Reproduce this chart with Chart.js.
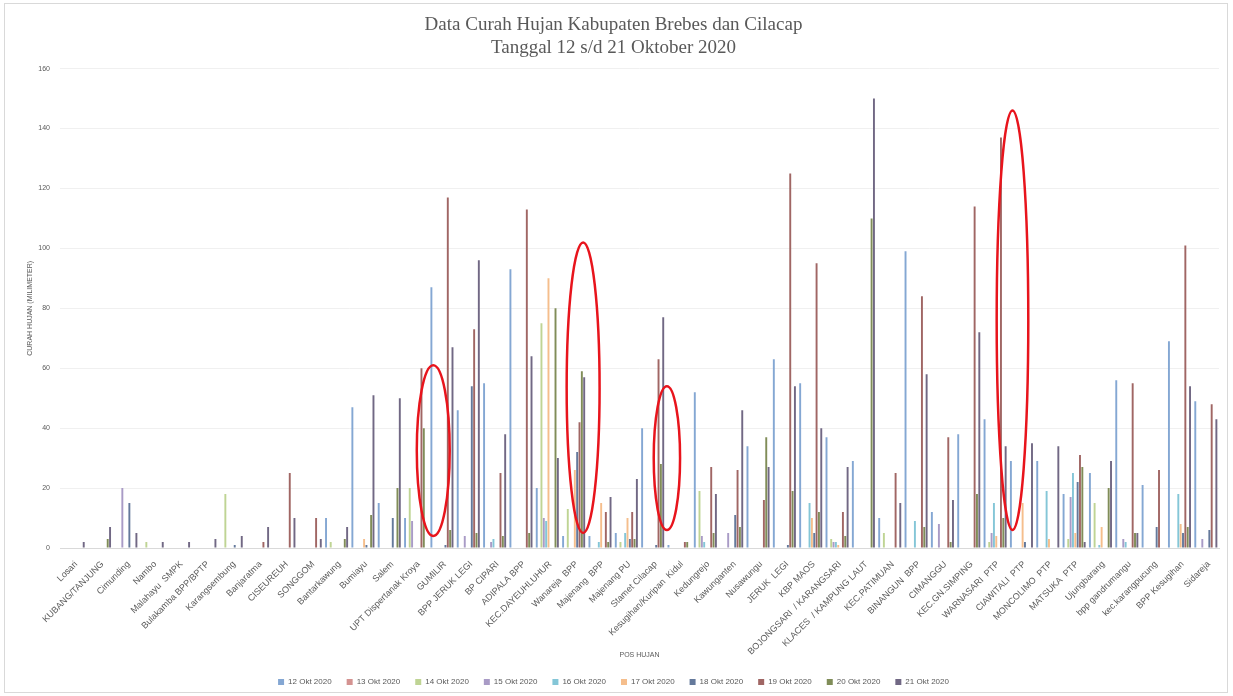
<!DOCTYPE html>
<html>
<head>
<meta charset="utf-8">
<script src="https://cdn.jsdelivr.net/npm/chart.js@4"></script>
<style>
  html, body { margin: 0; padding: 0; background: #ffffff; }
  #wrap { width: 1233px; height: 696px; position: relative; }
</style>
</head>
<body>
<div id="wrap"><canvas id="c" width="1233" height="696"></canvas></div>
<script>
// Rain gauge stations (x axis)
const categories = [
  'Losari', 'KUBANG/TANJUNG', 'Cimunding', 'Nambo', 'Malahayu  SMPK', 'Bulakamba BPP/BPTP',
  'Karangsembung', 'Banjaratma', 'CISEUREUH', 'SONGGOM', 'Bantarkawung', 'Bumiayu', 'Salem',
  'UPT Dispertanak Kroya', 'GUMILIR', 'BPP JERUK LEGI', 'BP CIPARI', 'ADIPALA BPP',
  'KEC.DAYEUHLUHUR', 'Wanareja  BPP', 'Majenang  BPP', 'Majenang PU', 'Stamet Cilacap',
  'Kesugihan/Kuripan  Kidul', 'Kedungrejo', 'Kawunganten', 'Nusawungu', 'JERUK  LEGI',
  'KBP MAOS', 'BOJONGSARI  / KARANGSARI', 'KLACES  / KAMPUNG LAUT', 'KEC.PATIMUAN',
  'BINANGUN  BPP', 'CIMANGGU', 'KEC.GN.SIMPING', 'WARNASARI  PTP', 'CIAWITALI  PTP',
  'MONCOLIMO  PTP', 'MATSUKA  PTP', 'Ujungbarang', 'bpp gandrumangu', 'kec.karangpucung',
  'BPP Kesugihan', 'Sidareja'
];

// Daily rainfall (mm), one value per station
const okt12 = [0,0,0,0,0,0,0,0,0,0,10,47,15,10,87,46,55,93,20,4,4,5,40,1,52,0,34,63,55,37,29,10,99,12,38,43,29,29,18,25,56,21,69,49];
const okt13 = [0,0,0,0,0,0,0,0,0,0,0,0,0,0,0,0,0,0,0,0,0,0,0,0,0,0,0,0,0,0,0,0,0,0,0,0,0,0,0,0,0,0,0,0];
const okt14 = [0,0,0,2,0,0,18,0,0,0,2,0,0,20,0,0,0,0,75,13,0,2,0,0,19,0,0,0,0,3,0,5,0,0,0,2,0,0,3,15,0,0,0,0];
const okt15 = [0,0,20,0,0,0,0,0,0,0,0,0,0,9,0,4,2,0,10,0,0,0,0,0,4,5,0,0,0,2,0,0,0,8,0,5,0,0,17,0,3,0,0,3];
const okt16 = [0,0,0,0,0,0,0,0,0,0,0,0,0,0,0,0,3,0,9,0,2,5,0,0,2,0,0,0,15,2,0,0,9,0,0,15,0,19,25,1,2,0,18,0];
const okt17 = [0,0,0,0,0,0,0,0,0,0,0,3,0,0,0,0,0,0,90,26,15,10,0,0,0,0,0,0,10,1,0,0,0,0,0,4,15,3,5,7,0,0,8,0];
const okt18 = [0,0,15,0,0,0,1,0,0,0,0,1,10,0,1,54,0,0,0,32,0,3,1,0,0,11,0,1,5,0,0,0,0,0,0,0,2,0,22,0,0,7,5,6];
const okt19 = [0,0,0,0,0,0,0,2,25,10,0,0,0,60,117,73,25,113,0,42,12,12,63,2,27,26,16,125,95,12,0,25,84,37,114,137,0,0,31,0,55,26,101,48];
const okt20 = [0,3,0,0,0,0,0,0,0,0,3,11,20,40,6,5,4,5,80,59,2,3,28,2,5,7,37,19,12,4,110,0,7,2,18,10,0,0,27,20,5,0,7,0];
const okt21 = [2,7,5,2,2,3,4,7,10,3,7,51,50,0,67,96,38,64,30,57,17,23,77,0,18,46,27,54,40,27,150,15,58,16,72,34,35,34,2,29,5,0,54,43];

// Y axis ticks
const yTicks = [0, 20, 40, 60, 80, 100, 120, 140, 160];

// Highlighted stations: station, offset (in categories), width (in categories), value range (mm)
const highlightStations = ['GUMILIR', 'Wanareja  BPP', 'Stamet Cilacap', 'CIAWITALI  PTP'];
const highlightShift = [-0.33, 0.36, 0.54, -0.34];
const highlightSpan = [1.25, 1.25, 1.0, 1.2];
const highlightLow = [4, 5, 6, 6];
const highlightHigh = [61, 102, 54, 146];

const seriesNames = ['12 Okt 2020','13 Okt 2020','14 Okt 2020','15 Okt 2020','16 Okt 2020',
                     '17 Okt 2020','18 Okt 2020','19 Okt 2020','20 Okt 2020','21 Okt 2020'];
const seriesValues = [okt12, okt13, okt14, okt15, okt16, okt17, okt18, okt19, okt20, okt21];
const seriesColors = ['#84a7d3','#d49391','#bfd494','#a99bc6','#84c6d7',
                      '#f5be8c','#64799b','#a06664','#808d58','#716884'];

const datasets = seriesNames.map((name, i) => ({
  label: name,
  data: seriesValues[i],
  backgroundColor: seriesColors[i],
  borderWidth: 0,
  categoryPercentage: 0.89,
  barPercentage: 0.82
}));

// Thin frame around the whole chart
const frame = {
  id: 'frame',
  beforeDraw(chart) {
    const ctx = chart.ctx;
    ctx.save();
    ctx.fillStyle = '#ffffff';
    ctx.fillRect(0, 0, chart.width, chart.height);
    ctx.strokeStyle = '#d9d9d9';
    ctx.lineWidth = 1;
    ctx.strokeRect(4.5, 3.5, 1223, 689);
    ctx.restore();
  }
};

// Red ovals around the highlighted stations
const highlights = {
  id: 'highlights',
  afterDatasetsDraw(chart) {
    const { ctx, scales: { x, y } } = chart;
    ctx.save();
    ctx.strokeStyle = '#e8141c';
    ctx.lineWidth = 2.5;
    highlightStations.forEach((st, i) => {
      const idx = categories.indexOf(st) + highlightShift[i];
      const cx = x.getPixelForValue(idx);
      const rx = (x.getPixelForValue(idx + highlightSpan[i] / 2) - cx);
      const yTop = y.getPixelForValue(highlightHigh[i]);
      const yBot = y.getPixelForValue(highlightLow[i]);
      ctx.beginPath();
      ctx.ellipse(cx, (yTop + yBot) / 2, rx, (yBot - yTop) / 2, 0, 0, Math.PI * 2);
      ctx.stroke();
    });
    ctx.restore();
  }
};

new Chart(document.getElementById('c'), {
  type: 'bar',
  data: { labels: categories, datasets },
  plugins: [frame, highlights],
  options: {
    responsive: false,
    animation: false,
    layout: { padding: { left: 8, right: 14, top: 8, bottom: 0 } },
    plugins: {
      title: {
        display: true,
        text: ['Data Curah Hujan Kabupaten Brebes dan Cilacap', 'Tanggal 12 s/d 21 Oktober 2020'],
        color: '#595959',
        font: { family: '"Liberation Serif", serif', size: 19, weight: 'normal', lineHeight: 1.2 },
        padding: { top: 6, bottom: 9 }
      },
      legend: {
        position: 'bottom',
        labels: {
          boxWidth: 6, boxHeight: 6,
          color: '#595959',
          padding: 15,
          font: { family: '"Liberation Sans", sans-serif', size: 8 }
        }
      },
      tooltip: { enabled: false }
    },
    scales: {
      x: {
        grid: { display: false, drawTicks: false },
        border: { color: '#d9d9d9' },
        ticks: {
          autoSkip: false,
          maxRotation: 45, minRotation: 45,
          color: '#595959',
          padding: 11,
          labelOffset: 3,
          font: { family: '"Liberation Sans", sans-serif', size: 9 }
        },
        title: {
          display: true, text: 'POS HUJAN', color: '#595959',
          font: { family: '"Liberation Sans", sans-serif', size: 7 },
          padding: { top: 4, bottom: 4 }
        },
        afterFit(scale) { scale.height = 115; }
      },
      y: {
        min: 0, max: 160,
        afterBuildTicks(scale) { scale.ticks = yTicks.map(v => ({ value: v })); },
        grid: { color: '#f0f0f0', drawTicks: false },
        border: { display: false },
        ticks: {
          color: '#595959', padding: 10,
          font: { family: '"Liberation Sans", sans-serif', size: 7 }
        },
        title: {
          display: true, text: 'CURAH HUJAN (MILIMETER)', color: '#595959',
          font: { family: '"Liberation Sans", sans-serif', size: 7 },
          padding: { top: 18, bottom: 4 }
        },
        afterFit(scale) { scale.width = 52; }
      }
    }
  }
});
</script>
</body>
</html>
